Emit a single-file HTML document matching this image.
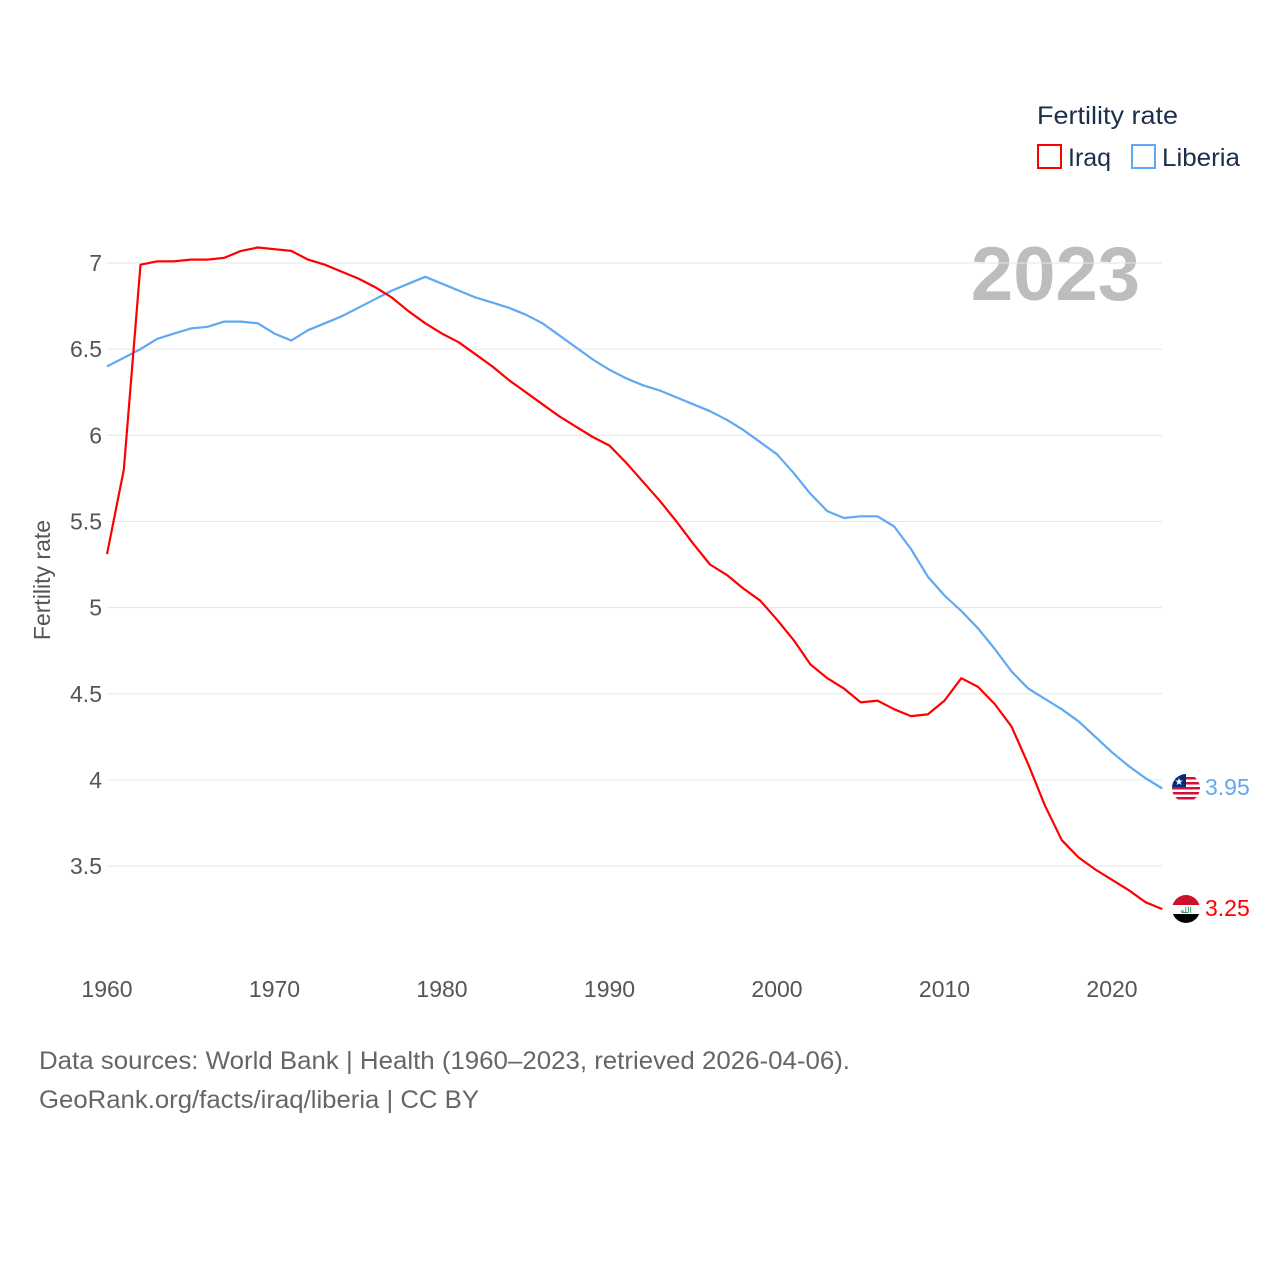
<!DOCTYPE html>
<html><head><meta charset="utf-8">
<style>
body{margin:0;background:#fff;font-family:"Liberation Sans",sans-serif;}
svg text{font-family:"Liberation Sans",sans-serif;}
</style></head>
<body>
<svg id="chart" width="1280" height="1280" viewBox="0 0 1280 1280" xmlns="http://www.w3.org/2000/svg">
  <text x="1037" y="124" font-size="25" fill="#1c2e4a" textLength="141" lengthAdjust="spacingAndGlyphs">Fertility rate</text>
  <g>
    <rect x="1038" y="145" width="23" height="23" fill="none" stroke="#ff0000" stroke-width="2"/>
    <text x="1068" y="166" font-size="25" fill="#1c2e4a">Iraq</text>
  </g>
  <g>
    <rect x="1132" y="145" width="23" height="23" fill="none" stroke="#5ea9f2" stroke-width="2"/>
    <text x="1162" y="166" font-size="25" fill="#1c2e4a" textLength="78" lengthAdjust="spacingAndGlyphs">Liberia</text>
  </g>
  <text x="1140" y="300" font-size="76" font-weight="bold" fill="#bdbdbd" text-anchor="end">2023</text>
  <text transform="translate(50,580) rotate(-90)" font-size="23" fill="#555" text-anchor="middle">Fertility rate</text>
  <g id="grid"></g>
  <g id="yticks"></g>
  <g id="xticks"></g>
  <g id="series"></g>
  <g>
    <clipPath id="clipL"><circle cx="1186" cy="788" r="14"/></clipPath>
    <g clip-path="url(#clipL)">
      <rect x="1172" y="774" width="28" height="28" fill="#fff"/>
      <rect x="1172" y="777" width="28" height="2.5" fill="#d21034"/>
      <rect x="1172" y="782" width="28" height="2.5" fill="#d21034"/>
      <rect x="1172" y="787" width="28" height="2.5" fill="#d21034"/>
      <rect x="1172" y="792" width="28" height="2.5" fill="#d21034"/>
      <rect x="1172" y="797" width="28" height="2.5" fill="#d21034"/>
      <rect x="1172" y="774" width="14" height="13" fill="#002b7f"/>
      <text x="1179" y="785" font-size="10" fill="#fff" text-anchor="middle">★</text>
    </g>
  </g>
  <g>
    <clipPath id="clipI"><circle cx="1186" cy="909" r="14"/></clipPath>
    <g clip-path="url(#clipI)">
      <rect x="1172" y="895" width="28" height="10" fill="#ce1126"/>
      <rect x="1172" y="905" width="28" height="9" fill="#fff"/>
      <rect x="1172" y="914" width="28" height="10" fill="#000"/>
      <text x="1186" y="913" font-size="8" fill="#007a3d" text-anchor="middle">الله</text>
    </g>
  </g>
  <text x="1205" y="795" font-size="23" fill="#5ea9f2">3.95</text>
  <text x="1205" y="916" font-size="23" fill="#ff0000">3.25</text>
  <text x="39" y="1069" font-size="25" fill="#666" textLength="811" lengthAdjust="spacingAndGlyphs">Data sources: World Bank | Health (1960–2023, retrieved 2026-04-06).</text>
  <text x="39" y="1108" font-size="25" fill="#666" textLength="440" lengthAdjust="spacingAndGlyphs">GeoRank.org/facts/iraq/liberia | CC BY</text>
</svg>
<script>
const years = Array.from({length:64},(_, i)=>1960+i);
const iraq = [5.31,5.80,6.99,7.01,7.01,7.02,7.02,7.03,7.07,7.09,7.08,7.07,7.02,6.99,6.95,6.91,6.86,6.80,6.72,6.65,6.59,6.54,6.47,6.40,6.32,6.25,6.18,6.11,6.05,5.99,5.94,5.84,5.73,5.62,5.50,5.37,5.25,5.19,5.11,5.04,4.93,4.81,4.67,4.59,4.53,4.45,4.46,4.41,4.37,4.38,4.46,4.59,4.54,4.44,4.31,4.09,3.85,3.65,3.55,3.48,3.42,3.36,3.29,3.25];
const liberia = [6.40,6.45,6.50,6.56,6.59,6.62,6.63,6.66,6.66,6.65,6.59,6.55,6.61,6.65,6.69,6.74,6.79,6.84,6.88,6.92,6.88,6.84,6.80,6.77,6.74,6.70,6.65,6.58,6.51,6.44,6.38,6.33,6.29,6.26,6.22,6.18,6.14,6.09,6.03,5.96,5.89,5.78,5.66,5.56,5.52,5.53,5.53,5.47,5.34,5.18,5.07,4.98,4.88,4.76,4.63,4.53,4.47,4.41,4.34,4.25,4.16,4.08,4.01,3.95];
const yTicks = [3.5,4,4.5,5,5.5,6,6.5,7];
const xTicks = [1960,1970,1980,1990,2000,2010,2020];

const NS="http://www.w3.org/2000/svg";
const xs = y => 107 + (y-1960)*16.75;
const ys = v => 263 + (7-v)*172.3;
function mk(tag, attrs, parent){const e=document.createElementNS(NS,tag);for(const k in attrs)e.setAttribute(k,attrs[k]);parent.appendChild(e);return e;}
const grid=document.getElementById('grid'), yt=document.getElementById('yticks'), xt=document.getElementById('xticks'), ser=document.getElementById('series');
yTicks.forEach(v=>{
  const l=mk('line',{x1:107,x2:1162,y1:ys(v),y2:ys(v),stroke:'#e6e6e6','stroke-width':1},grid);
  
  
  const t=mk('text',{x:102,y:ys(v)+8,'font-size':23,fill:'#555','text-anchor':'end'},yt);
  t.textContent=String(v);
  
  
});
xTicks.forEach(y=>{
  const t=mk('text',{x:xs(y),y:997,'font-size':23,fill:'#555','text-anchor':'middle'},xt);
  t.textContent=String(y);
  
  
});
function line(vals,color,name){
  const d=vals.map((v,i)=>(i?'L':'M')+xs(years[i]).toFixed(1)+','+ys(v).toFixed(1)).join('');
  const p=mk('path',{d:d,fill:'none',stroke:color,'stroke-width':2.2,'stroke-linejoin':'round'},ser);
  
  
}
line(liberia,'#5ea9f2','liberia-line');
line(iraq,'#ff0000','iraq-line');
</script>
</body></html>
